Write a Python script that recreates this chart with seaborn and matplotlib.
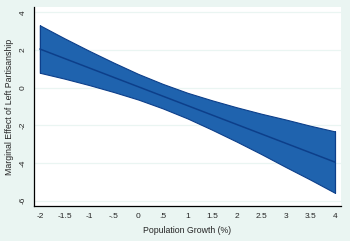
import matplotlib
matplotlib.use("Agg")
import matplotlib.pyplot as plt
import seaborn as sns
import pandas as pd

# population growth values where the marginal effect was evaluated
growth = [-2, -1.5, -1, -0.5, 0, 0.5, 1, 1.5, 2, 2.5, 3, 3.5, 4]
effect = [2.05, 1.55, 1.05, 0.55, 0.05, -0.45, -0.95, -1.45, -1.95, -2.45, -2.95, -3.45, -3.95]
upper = [3.31, 2.62, 1.96, 1.33, 0.73, 0.20, -0.27, -0.67, -1.04, -1.38, -1.69, -2.02, -2.32]
lower = [0.79, 0.48, 0.14, -0.23, -0.63, -1.10, -1.63, -2.23, -2.86, -3.52, -4.21, -4.88, -5.58]

x_ticks = [-2, -1.5, -1, -0.5, 0, 0.5, 1, 1.5, 2, 2.5, 3, 3.5, 4]
x_labels = ["-2", "-1.5", "-1", "-.5", "0", ".5", "1", "1.5", "2", "2.5", "3", "3.5", "4"]
y_ticks = [-6, -4, -2, 0, 2, 4]

BG = "#eaf5f2"
FILL = "#1f63ae"
EDGE = "#0d3f8a"

sns.set_style("white")
plt.rcParams['font.family'] = ['Liberation Sans', 'DejaVu Sans']

df = pd.DataFrame({"growth": growth, "effect": effect})

fig = plt.figure(figsize=(3.5, 2.41), dpi=100, facecolor=BG)
ax = fig.add_axes([0.097, 0.145, 0.877, 0.826])
ax.set_facecolor("white")

for yt in y_ticks:
    ax.axhline(yt, color=BG, lw=0.9, zorder=0)

ax.fill_between(growth, lower, upper, facecolor=FILL, edgecolor=EDGE, lw=0.8, zorder=2)
ax.plot([growth[0], growth[0]], [lower[0], upper[0]], color=EDGE, lw=0.8, zorder=3)
ax.plot([growth[-1], growth[-1]], [lower[-1], upper[-1]], color=EDGE, lw=0.8, zorder=3)
sns.lineplot(data=df, x="growth", y="effect", color=EDGE, lw=1.1, ax=ax, zorder=4)

ax.set_xlim(-2.12, 4.12)
ax.set_ylim(-6.28, 4.28)
ax.set_xticks(x_ticks)
ax.set_xticklabels(x_labels, fontsize=6)
ax.set_yticks(y_ticks)
ax.set_yticklabels([str(v) for v in y_ticks], fontsize=6, rotation=90, va="center")

for s in ["top", "right"]:
    ax.spines[s].set_visible(False)
for s in ["left", "bottom"]:
    ax.spines[s].set_color("black")
    ax.spines[s].set_linewidth(0.9)
ax.tick_params(axis="both", direction="out", length=3, width=0.8, color="black", pad=2)

ax.set_xlabel("Population Growth (%)", fontsize=6.3, labelpad=4)
ax.set_ylabel("Marginal Effect of Left Partisanship", fontsize=6.3, labelpad=4)

fig.savefig("out.png", dpi=100, facecolor=BG)
